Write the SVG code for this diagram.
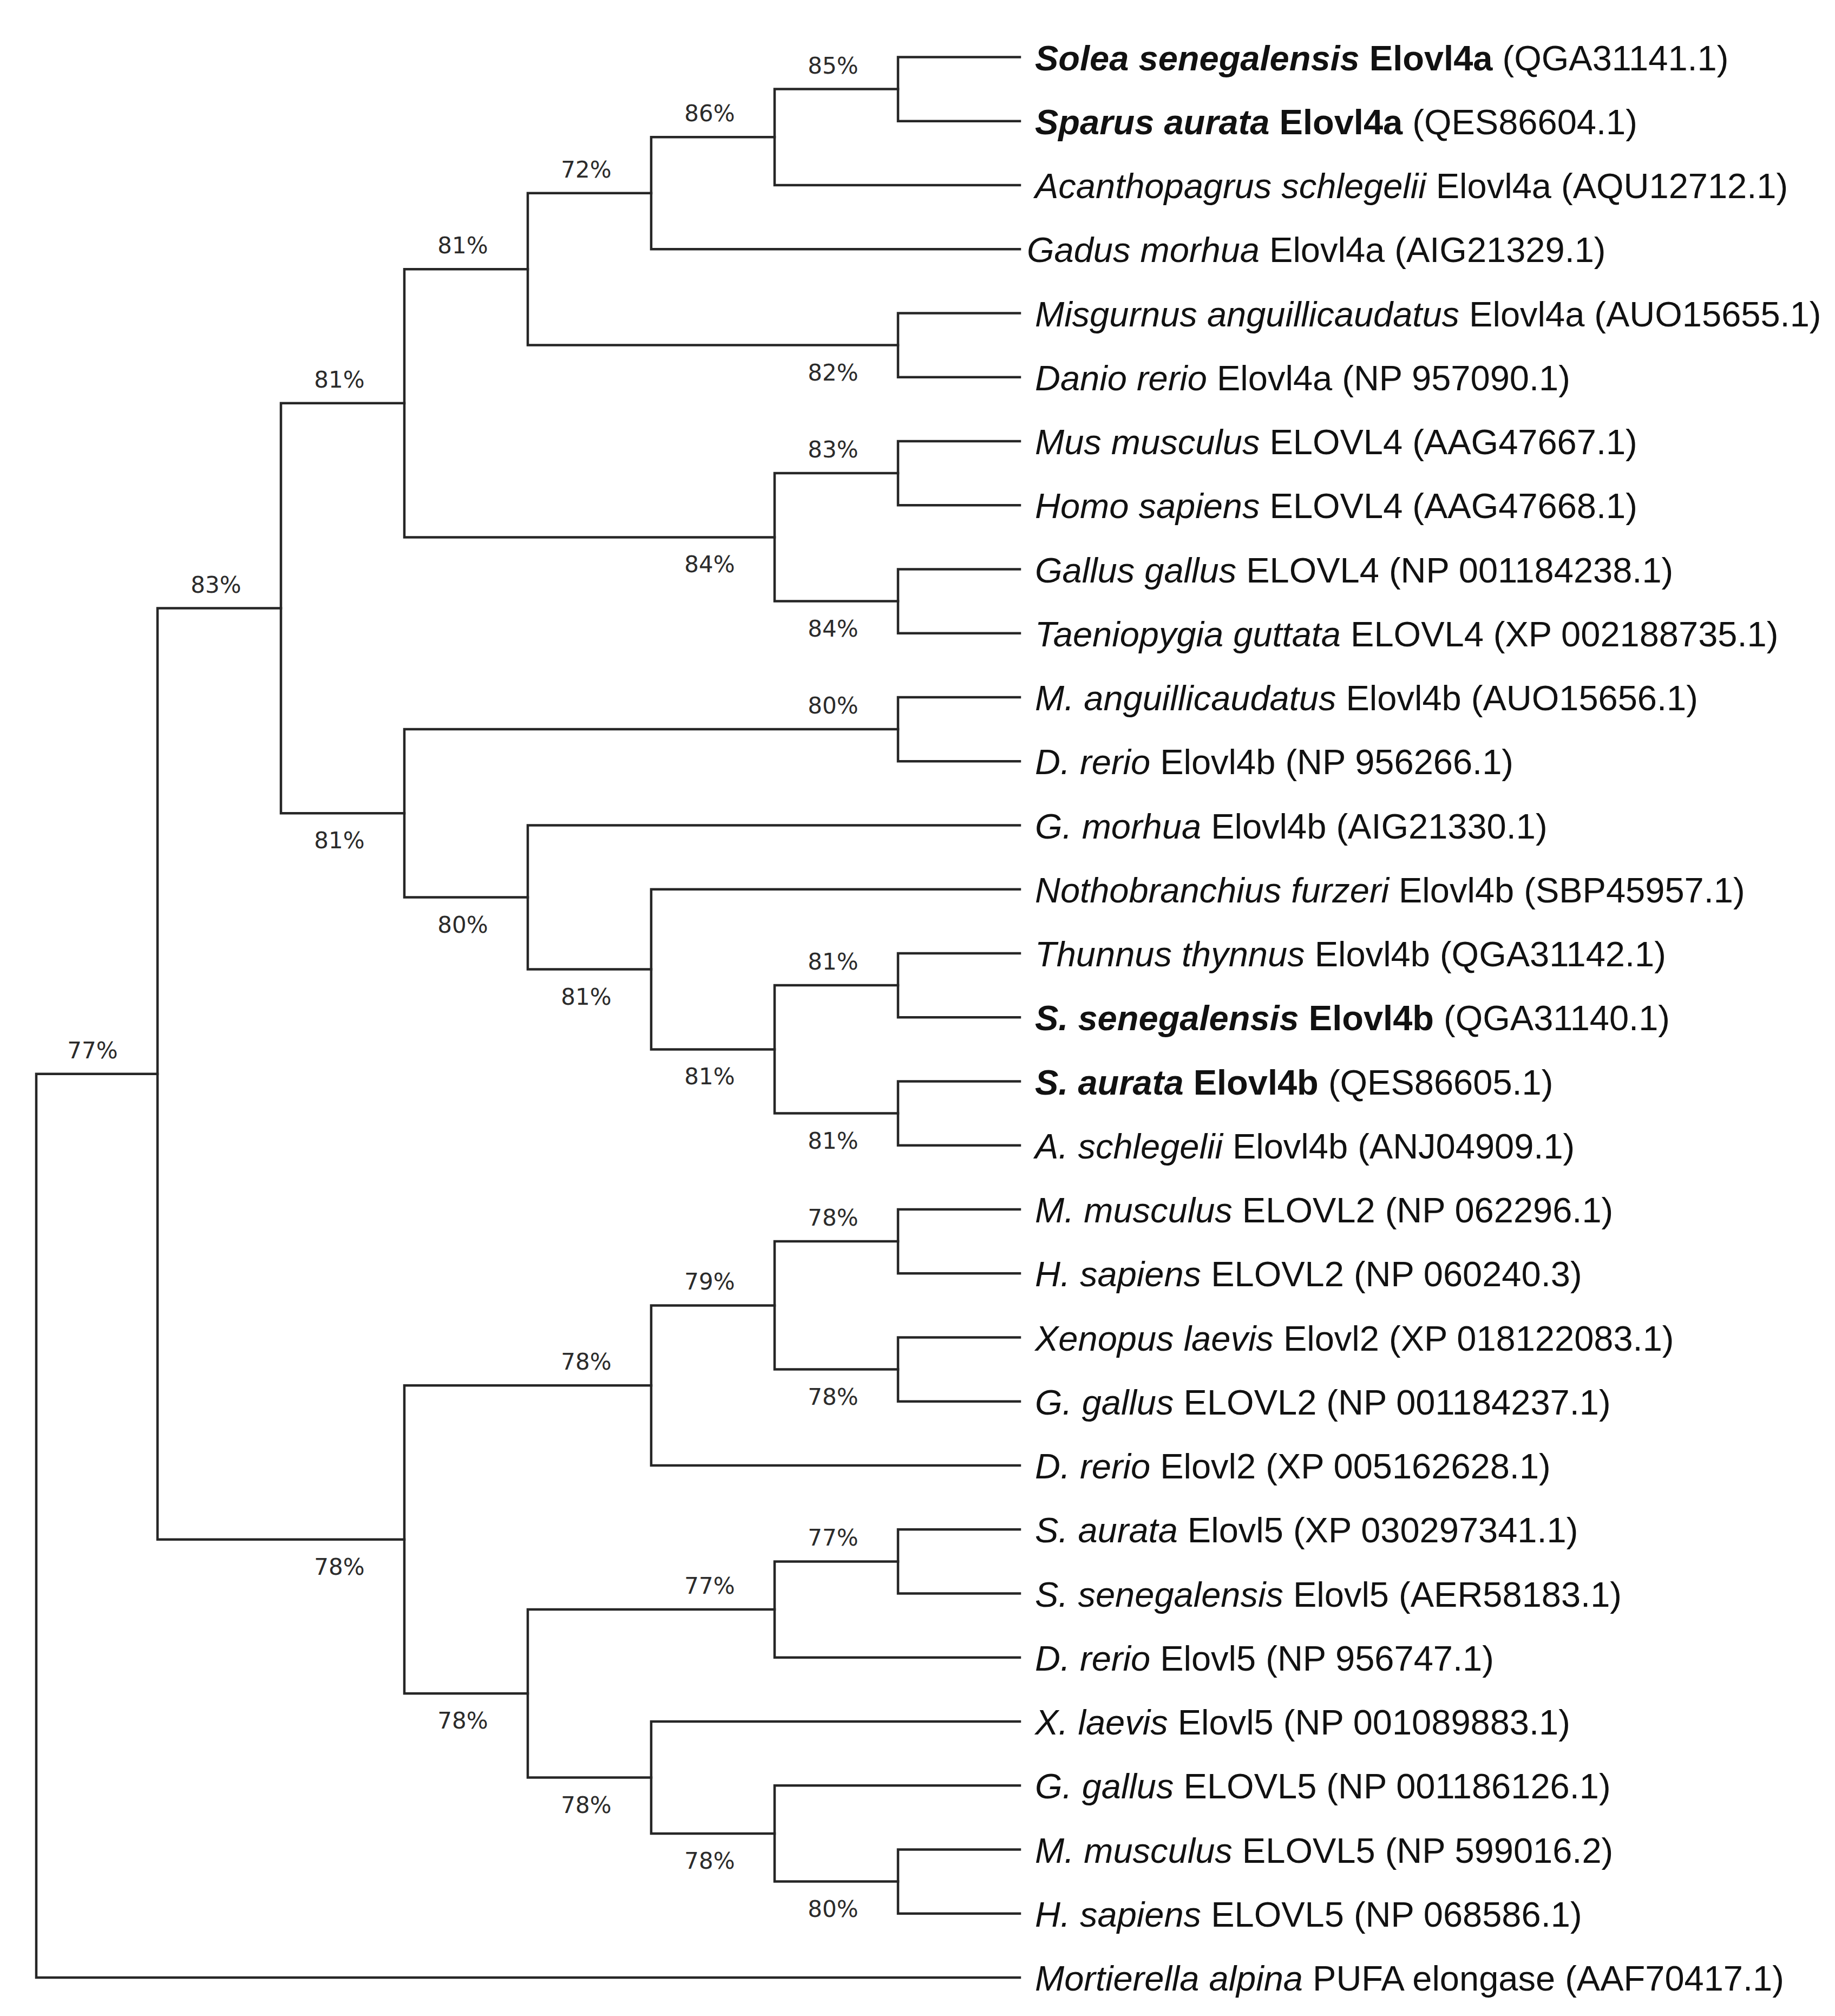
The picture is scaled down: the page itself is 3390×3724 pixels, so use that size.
<svg xmlns="http://www.w3.org/2000/svg" width="3390" height="3724" viewBox="0 0 3390 3724">
<style>
.br{fill:none;stroke:#262626;stroke-width:4.5;stroke-linecap:square;stroke-linejoin:miter}
.bs{font-family:"DejaVu Sans",Verdana,sans-serif;font-size:42px;fill:#2b2b2b;text-anchor:middle}
.lf{font-family:"Liberation Sans",Arial,sans-serif;font-size:65px;fill:#111}
.i{font-style:italic}
.b{font-weight:bold}
</style>
<rect width="3390" height="3724" fill="#fff"/>
<g id="branches">
<path class="br" d="M291 1983.7H67V3653H1884"/>
<path class="br" d="M519 1123.6H291V2843.8H747"/>
<path class="br" d="M747 744.8H519V1502.3H747"/>
<path class="br" d="M975 497.2H747V992.4H1431"/>
<path class="br" d="M1203 356.8H975V637.6H1659"/>
<path class="br" d="M1431 253.3H1203V460.3H1884"/>
<path class="br" d="M1659 164.6H1431V342H1884"/>
<path class="br" d="M1884 105.5H1659V223.8H1884"/>
<path class="br" d="M1884 578.5H1659V696.8H1884"/>
<path class="br" d="M1659 874.1H1431V1110.6H1659"/>
<path class="br" d="M1884 815H1659V933.3H1884"/>
<path class="br" d="M1884 1051.5H1659V1169.8H1884"/>
<path class="br" d="M1659 1347.1H747V1657.5H975"/>
<path class="br" d="M1884 1288H1659V1406.3H1884"/>
<path class="br" d="M1884 1524.5H975V1790.6H1203"/>
<path class="br" d="M1884 1642.8H1203V1938.4H1431"/>
<path class="br" d="M1659 1820.1H1431V2056.6H1659"/>
<path class="br" d="M1884 1761H1659V1879.3H1884"/>
<path class="br" d="M1884 1997.5H1659V2115.8H1884"/>
<path class="br" d="M1203 2559.2H747V3128.3H975"/>
<path class="br" d="M1431 2411.4H1203V2707H1884"/>
<path class="br" d="M1659 2293.1H1431V2529.6H1659"/>
<path class="br" d="M1884 2234H1659V2352.3H1884"/>
<path class="br" d="M1884 2470.5H1659V2588.8H1884"/>
<path class="br" d="M1431 2973.1H975V3283.5H1203"/>
<path class="br" d="M1659 2884.4H1431V3061.8H1884"/>
<path class="br" d="M1884 2825.3H1659V2943.5H1884"/>
<path class="br" d="M1884 3180H1203V3386.9H1431"/>
<path class="br" d="M1884 3298.3H1431V3475.6H1659"/>
<path class="br" d="M1884 3416.5H1659V3534.8H1884"/>
</g>
<g id="bootstrap">
<g id="node-n85"><text class="bs" x="1539" y="135.6">85%</text></g>
<g id="node-n86"><text class="bs" x="1311" y="224.3">86%</text></g>
<g id="node-n72"><text class="bs" x="1083" y="327.8">72%</text></g>
<g id="node-n82"><text class="bs" x="1539" y="702.6">82%</text></g>
<g id="node-n81a"><text class="bs" x="855" y="468.2">81%</text></g>
<g id="node-n83"><text class="bs" x="1539" y="845.1">83%</text></g>
<g id="node-n84b"><text class="bs" x="1539" y="1175.6">84%</text></g>
<g id="node-n84a"><text class="bs" x="1311" y="1057.4">84%</text></g>
<g id="node-n81b"><text class="bs" x="627" y="715.8">81%</text></g>
<g id="node-n80a"><text class="bs" x="1539" y="1318.1">80%</text></g>
<g id="node-n81c"><text class="bs" x="1539" y="1791.1">81%</text></g>
<g id="node-n81e"><text class="bs" x="1539" y="2121.6">81%</text></g>
<g id="node-n81d"><text class="bs" x="1311" y="2003.4">81%</text></g>
<g id="node-n81f"><text class="bs" x="1083" y="1855.6">81%</text></g>
<g id="node-n80c"><text class="bs" x="855" y="1722.5">80%</text></g>
<g id="node-n80b"><text class="bs" x="627" y="1567.3">81%</text></g>
<g id="node-n83root"><text class="bs" x="399" y="1094.6">83%</text></g>
<g id="node-nA"><text class="bs" x="171" y="1954.7">77%</text></g>
<g id="node-n78b"><text class="bs" x="1539" y="2264.1">78%</text></g>
<g id="node-n78c"><text class="bs" x="1539" y="2594.6">78%</text></g>
<g id="node-n79"><text class="bs" x="1311" y="2382.4">79%</text></g>
<g id="node-n78d"><text class="bs" x="1083" y="2530.2">78%</text></g>
<g id="node-n77a"><text class="bs" x="1539" y="2855.4">77%</text></g>
<g id="node-n77b"><text class="bs" x="1311" y="2944.1">77%</text></g>
<g id="node-n80d"><text class="bs" x="1539" y="3540.6">80%</text></g>
<g id="node-n78e"><text class="bs" x="1311" y="3451.9">78%</text></g>
<g id="node-n78f"><text class="bs" x="1083" y="3348.5">78%</text></g>
<g id="node-n78g"><text class="bs" x="855" y="3193.3">78%</text></g>
<g id="node-n78h"><text class="bs" x="627" y="2908.8">78%</text></g>
</g>
<g id="leaves">
<g id="leaf-0"><text class="lf" x="1912" y="129.5"><tspan class="b i">Solea senegalensis</tspan><tspan class="b"> Elovl4a</tspan> (QGA31141.1)</text></g>
<g id="leaf-1"><text class="lf" x="1912" y="247.8"><tspan class="b i">Sparus aurata</tspan><tspan class="b"> Elovl4a</tspan> (QES86604.1)</text></g>
<g id="leaf-2"><text class="lf" x="1912" y="366"><tspan class="i">Acanthopagrus schlegelii</tspan> Elovl4a (AQU12712.1)</text></g>
<g id="leaf-3"><text class="lf" x="1897" y="484.3"><tspan class="i">Gadus morhua</tspan> Elovl4a (AIG21329.1)</text></g>
<g id="leaf-4"><text class="lf" x="1912" y="602.5"><tspan class="i">Misgurnus anguillicaudatus</tspan> Elovl4a (AUO15655.1)</text></g>
<g id="leaf-5"><text class="lf" x="1912" y="720.8"><tspan class="i">Danio rerio</tspan> Elovl4a (NP 957090.1)</text></g>
<g id="leaf-6"><text class="lf" x="1912" y="839"><tspan class="i">Mus musculus</tspan> ELOVL4 (AAG47667.1)</text></g>
<g id="leaf-7"><text class="lf" x="1912" y="957.3"><tspan class="i">Homo sapiens</tspan> ELOVL4 (AAG47668.1)</text></g>
<g id="leaf-8"><text class="lf" x="1912" y="1075.5"><tspan class="i">Gallus gallus</tspan> ELOVL4 (NP 001184238.1)</text></g>
<g id="leaf-9"><text class="lf" x="1912" y="1193.8"><tspan class="i">Taeniopygia guttata</tspan> ELOVL4 (XP 002188735.1)</text></g>
<g id="leaf-10"><text class="lf" x="1912" y="1312"><tspan class="i">M. anguillicaudatus</tspan> Elovl4b (AUO15656.1)</text></g>
<g id="leaf-11"><text class="lf" x="1912" y="1430.3"><tspan class="i">D. rerio</tspan> Elovl4b (NP 956266.1)</text></g>
<g id="leaf-12"><text class="lf" x="1912" y="1548.5"><tspan class="i">G. morhua</tspan> Elovl4b (AIG21330.1)</text></g>
<g id="leaf-13"><text class="lf" x="1912" y="1666.8"><tspan class="i">Nothobranchius furzeri</tspan> Elovl4b (SBP45957.1)</text></g>
<g id="leaf-14"><text class="lf" x="1912" y="1785"><tspan class="i">Thunnus thynnus</tspan> Elovl4b (QGA31142.1)</text></g>
<g id="leaf-15"><text class="lf" x="1912" y="1903.3"><tspan class="b i">S. senegalensis</tspan><tspan class="b"> Elovl4b</tspan> (QGA31140.1)</text></g>
<g id="leaf-16"><text class="lf" x="1912" y="2021.5"><tspan class="b i">S. aurata</tspan><tspan class="b"> Elovl4b</tspan> (QES86605.1)</text></g>
<g id="leaf-17"><text class="lf" x="1912" y="2139.8"><tspan class="i">A. schlegelii</tspan> Elovl4b (ANJ04909.1)</text></g>
<g id="leaf-18"><text class="lf" x="1912" y="2258"><tspan class="i">M. musculus</tspan> ELOVL2 (NP 062296.1)</text></g>
<g id="leaf-19"><text class="lf" x="1912" y="2376.3"><tspan class="i">H. sapiens</tspan> ELOVL2 (NP 060240.3)</text></g>
<g id="leaf-20"><text class="lf" x="1912" y="2494.5"><tspan class="i">Xenopus laevis</tspan> Elovl2 (XP 018122083.1)</text></g>
<g id="leaf-21"><text class="lf" x="1912" y="2612.8"><tspan class="i">G. gallus</tspan> ELOVL2 (NP 001184237.1)</text></g>
<g id="leaf-22"><text class="lf" x="1912" y="2731"><tspan class="i">D. rerio</tspan> Elovl2 (XP 005162628.1)</text></g>
<g id="leaf-23"><text class="lf" x="1912" y="2849.3"><tspan class="i">S. aurata</tspan> Elovl5 (XP 030297341.1)</text></g>
<g id="leaf-24"><text class="lf" x="1912" y="2967.5"><tspan class="i">S. senegalensis</tspan> Elovl5 (AER58183.1)</text></g>
<g id="leaf-25"><text class="lf" x="1912" y="3085.8"><tspan class="i">D. rerio</tspan> Elovl5 (NP 956747.1)</text></g>
<g id="leaf-26"><text class="lf" x="1912" y="3204"><tspan class="i">X. laevis</tspan> Elovl5 (NP 001089883.1)</text></g>
<g id="leaf-27"><text class="lf" x="1912" y="3322.3"><tspan class="i">G. gallus</tspan> ELOVL5 (NP 001186126.1)</text></g>
<g id="leaf-28"><text class="lf" x="1912" y="3440.5"><tspan class="i">M. musculus</tspan> ELOVL5 (NP 599016.2)</text></g>
<g id="leaf-29"><text class="lf" x="1912" y="3558.8"><tspan class="i">H. sapiens</tspan> ELOVL5 (NP 068586.1)</text></g>
<g id="leaf-30"><text class="lf" x="1912" y="3677"><tspan class="i">Mortierella alpina</tspan> PUFA elongase (AAF70417.1)</text></g>
</g>
</svg>
